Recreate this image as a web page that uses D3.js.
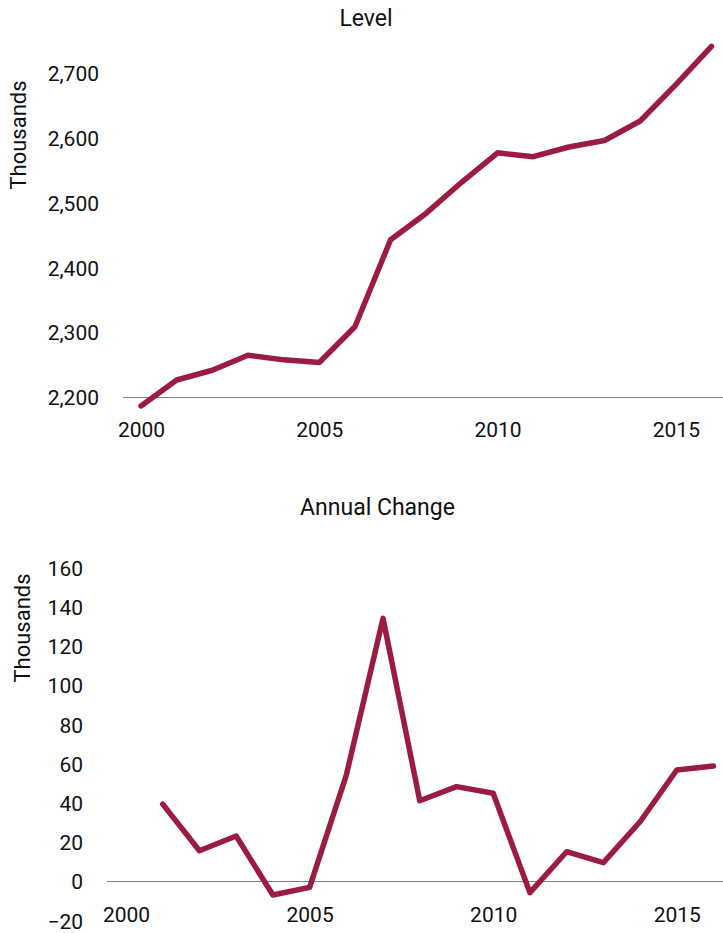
<!DOCTYPE html>
<html>
<head>
<meta charset="utf-8">
<script src="https://cdn.jsdelivr.net/npm/d3@7"></script>
<style>
  html, body { margin: 0; padding: 0; background: #fff; }
  svg text { font-family: Roboto, "Noto Sans", sans-serif; fill: #111; }
</style>
</head>
<body>
<svg id="chart" width="723" height="933"></svg>
<script>
const years = [2000,2001,2002,2003,2004,2005,2006,2007,2008,2009,2010,2011,2012,2013,2014,2015,2016];
const levelValues = [2187,2227,2242,2265,2258,2254,2309,2443,2484,2532,2577,2571,2586,2596,2626,2682,2741];
const changeYears = [2001,2002,2003,2004,2005,2006,2007,2008,2009,2010,2011,2012,2013,2014,2015,2016];
const changeValues = [39.5,15.7,23.2,-6.9,-3,54.3,134.3,41.2,48.4,45,-5.7,15.2,9.6,30.5,56.9,58.9];
const levelTicks = [2200,2300,2400,2500,2600,2700];
const changeTicks = [-20,0,20,40,60,80,100,120,140,160];
const xTicks = [2000,2005,2010,2015];
const titles = ["Level","Annual Change"];
const yLabel = "Thousands";

const color = "#9C1B41";
const FONT = "Roboto, 'Noto Sans', sans-serif";
const svg = d3.select("#chart");

function panel(cfg) {
  const x = d3.scaleLinear().domain([2000, 2016]).range(cfg.xr);
  const y = d3.scaleLinear().domain(cfg.yd).range(cfg.yr);
  const g = svg.append("g");

  g.append("text").attr("x", cfg.titleX).attr("y", cfg.titleY)
    .attr("text-anchor", "middle").attr("dominant-baseline", "central")
    .attr("font-size", 23).text(cfg.title);

  g.append("text")
    .attr("transform", `translate(${cfg.ylabX},${cfg.ylabY}) rotate(-90)`)
    .attr("text-anchor", "middle").attr("dominant-baseline", "central")
    .attr("font-size", 22).text(yLabel);

  const ya = g.append("g").attr("transform", `translate(${cfg.yAxisX},0)`)
    .call(d3.axisLeft(y).tickValues(cfg.yTicks).tickSize(0).tickPadding(0)
      .tickFormat(d3.format(cfg.fmt)));
  ya.select(".domain").remove();
  ya.selectAll("text").attr("font-size", 21).attr("font-family", FONT)
    .attr("fill", "#111").attr("dy", "0.35em");

  g.append("line").attr("x1", cfg.baseX1).attr("x2", 723)
    .attr("y1", y(cfg.base)).attr("y2", y(cfg.base))
    .attr("stroke", "#7f7f7f").attr("stroke-width", 1.2);

  const xa = g.append("g").attr("transform", `translate(0,${cfg.xLabY})`)
    .call(d3.axisBottom(x).tickValues(xTicks).tickSize(0).tickPadding(0).tickFormat(d3.format("d")));
  xa.select(".domain").remove();
  xa.selectAll("text").attr("font-size", 21).attr("font-family", FONT)
    .attr("fill", "#111").attr("dy", "0.35em");

  const line = d3.line().x(d => x(d[0])).y(d => y(d[1]));
  g.append("path").datum(cfg.xs.map((v, i) => [v, cfg.vals[i]]))
    .attr("d", line).attr("fill", "none").attr("stroke", color)
    .attr("stroke-width", 5.5).attr("stroke-linejoin", "round").attr("stroke-linecap", "round");
}

panel({
  title: titles[0], titleX: 366, titleY: 18,
  ylabX: 18, ylabY: 135,
  xr: [141, 711.5], yd: [2200, 2700], yr: [397.5, 73],
  yTicks: levelTicks, fmt: ",", yAxisX: 99,
  base: 2200, baseX1: 123, xLabY: 430,
  xs: years, vals: levelValues
});

panel({
  title: titles[1], titleX: 377.5, titleY: 507,
  ylabX: 22, ylabY: 628,
  xr: [126, 713.5], yd: [0, 160], yr: [881.5, 568],
  yTicks: changeTicks, fmt: "d", yAxisX: 83,
  base: 0, baseX1: 107, xLabY: 915,
  xs: changeYears, vals: changeValues
});
</script>
</body>
</html>
